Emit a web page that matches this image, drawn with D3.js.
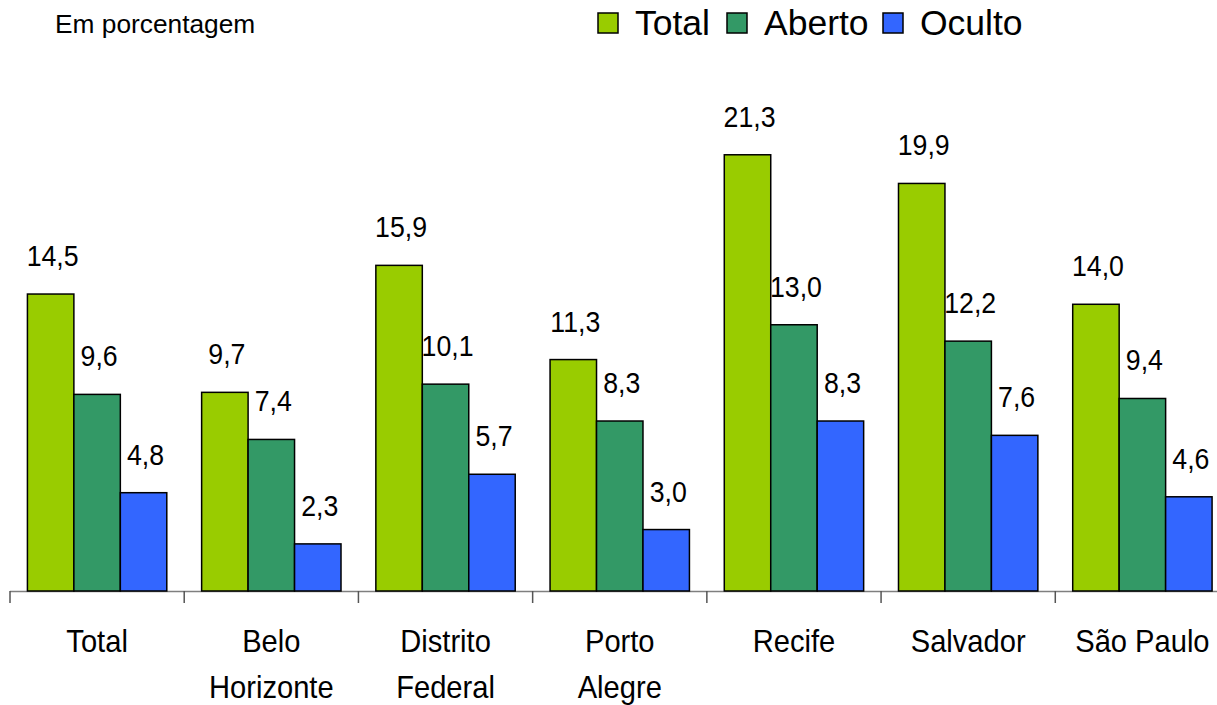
<!DOCTYPE html>
<html>
<head>
<meta charset="utf-8">
<script src="https://cdn.jsdelivr.net/npm/d3@7"></script>
<style>
  body { margin: 0; background: #fff; }
  svg { font-family: "Liberation Sans", Arial, sans-serif; }
</style>
</head>
<body>
<div id="chart"></div>
<script>
// data
var cidades = [["Total"], ["Belo", "Horizonte"], ["Distrito", "Federal"], ["Porto", "Alegre"], ["Recife"], ["Salvador"], ["São Paulo"]];
var series = ["Total", "Aberto", "Oculto"];
var total  = [14.5, 9.7, 15.9, 11.3, 21.3, 19.9, 14.0];
var aberto = [9.6, 7.4, 10.1, 8.3, 13.0, 12.2, 9.4];
var oculto = [4.8, 2.3, 5.7, 3.0, 8.3, 7.6, 4.6];
var cores = ["#99CC00", "#339966", "#3366FF"];

var width = 1217, height = 705;
var base = 591;

var svg = d3.select("#chart").append("svg")
    .attr("width", width)
    .attr("height", height);

var names = cidades.map(function(d) { return d.join(" "); });
var rows = names.map(function(n, i) {
    return {name: n, lines: cidades[i], values: [total[i], aberto[i], oculto[i]]};
});

// scales
var x0 = d3.scaleBand().domain(names).range([10, 1229.5]).padding(0);
var bw = x0.bandwidth();
var x1 = d3.scaleBand().domain(series).range([bw * 0.1, bw * 0.9]).padding(0);
var y = d3.scaleLinear().domain([0, 25]).range([base, base - 25 * 20.48]);
var color = d3.scaleOrdinal().domain(series).range(cores);
var fmt = d3.formatLocale({decimal: ",", thousands: ".", grouping: [3], currency: ["R$", ""]}).format(".1f");

// axis line + ticks
svg.append("line")
    .attr("x1", x0.range()[0]).attr("x2", x0.range()[1])
    .attr("y1", base + 0.5).attr("y2", base + 0.5)
    .attr("stroke", "#7f7f7f").attr("stroke-width", 1.5);

var ticks = names.map(function(n) { return x0(n); }).concat([x0.range()[1]]);
svg.selectAll(".tick")
    .data(ticks)
    .enter()
    .append("line")
    .attr("x1", function(d) { return d; })
    .attr("x2", function(d) { return d; })
    .attr("y1", base)
    .attr("y2", base + 12)
    .attr("stroke", "#555").attr("stroke-width", 1.5);

// bars
var groups = svg.selectAll(".grp")
    .data(rows)
    .enter()
    .append("g")
    .attr("transform", function(d) { return "translate(" + x0(d.name) + ",0)"; });

groups.selectAll("rect")
    .data(function(d) { return d.values.map(function(v, j) { return {s: series[j], v: v}; }); })
    .enter()
    .append("rect")
    .attr("x", function(d) { return x1(d.s); })
    .attr("y", function(d) { return y(d.v); })
    .attr("width", x1.bandwidth())
    .attr("height", function(d) { return base - y(d.v); })
    .attr("fill", function(d) { return color(d.s); })
    .attr("stroke", "#000")
    .attr("stroke-width", 1.5);

// value labels
groups.selectAll(".val")
    .data(function(d) { return d.values.map(function(v, j) { return {s: series[j], v: v}; }); })
    .enter()
    .append("text")
    .attr("transform", function(d) {
        return "translate(" + (x1(d.s) + x1.bandwidth() / 2 + 2) + "," + (y(d.v) - 28) + ") scale(0.89,1)";
    })
    .attr("text-anchor", "middle")
    .style("font-size", "30px")
    .attr("fill", "#000")
    .text(function(d) { return fmt(d.v); });

// category labels
groups.each(function(d) {
    var g = d3.select(this);
    d.lines.forEach(function(l, k) {
        g.append("text")
            .attr("transform", "translate(" + (bw / 2) + "," + (652 + k * 46) + ") scale(0.91,1)")
            .attr("text-anchor", "middle")
            .style("font-size", "32px")
            .attr("fill", "#000")
            .text(l);
    });
});

// subtitle
svg.append("text")
    .attr("x", 55).attr("y", 33)
    .style("font-size", "26.3px")
    .text("Em porcentagem");

// legend
var legX = [598, 727, 883];
var leg = svg.selectAll(".leg")
    .data(series)
    .enter()
    .append("g")
    .attr("transform", function(d, i) { return "translate(" + legX[i] + ",13)"; });

leg.append("rect")
    .attr("width", 20).attr("height", 20)
    .attr("fill", function(d) { return color(d); })
    .attr("stroke", "#000").attr("stroke-width", 1.5);

leg.append("text")
    .attr("x", 37).attr("y", 22)
    .style("font-size", "35.5px")
    .text(function(d) { return d; });
</script>
</body>
</html>
